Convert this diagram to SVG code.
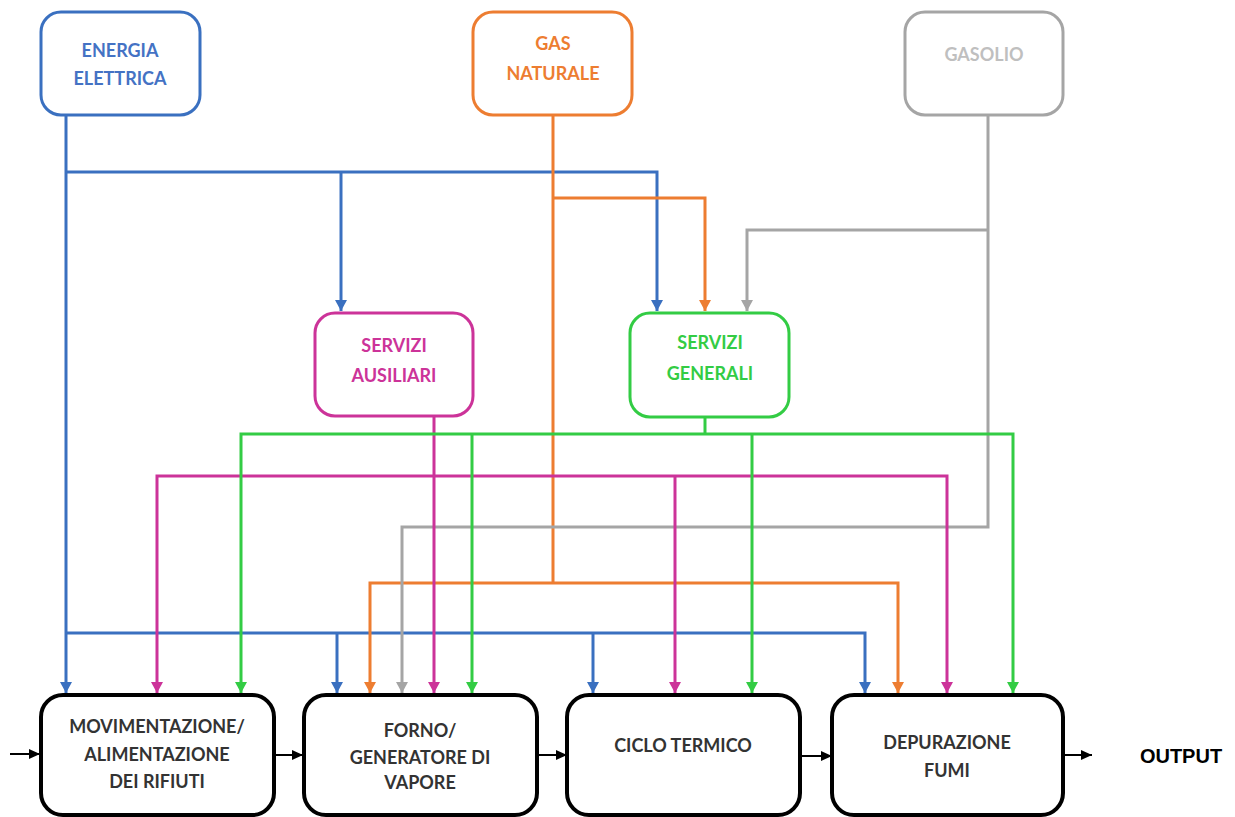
<svg xmlns="http://www.w3.org/2000/svg" width="1235" height="817" viewBox="0 0 1235 817">
  <style>
    .src { fill: #ffffff; stroke-width: 3; }
    .proc { fill: #ffffff; stroke: #000000; stroke-width: 4; }
    .lbl { font-family: Lato, "Open Sans", "Liberation Sans", sans-serif; font-weight: bold; font-size: 18px; text-anchor: middle; }
    .wire { fill: none; stroke-width: 3; }
    .blue { stroke: #3a70c0; }
    .orange { stroke: #ed7d31; }
    .grey { stroke: #a5a5a5; }
    .magenta { stroke: #cc3399; }
    .green { stroke: #33cc44; }
    .black { stroke: #000000; stroke-width: 2; }
  </style>
  <defs>
    <marker id="ah-blue" markerUnits="userSpaceOnUse" markerWidth="12" markerHeight="12" refX="11" refY="6" orient="auto"><path d="M0,0 L11,6 L0,12 z" fill="#3a70c0"/></marker>
    <marker id="ah-orange" markerUnits="userSpaceOnUse" markerWidth="12" markerHeight="12" refX="11" refY="6" orient="auto"><path d="M0,0 L11,6 L0,12 z" fill="#ed7d31"/></marker>
    <marker id="ah-grey" markerUnits="userSpaceOnUse" markerWidth="12" markerHeight="12" refX="11" refY="6" orient="auto"><path d="M0,0 L11,6 L0,12 z" fill="#a5a5a5"/></marker>
    <marker id="ah-magenta" markerUnits="userSpaceOnUse" markerWidth="12" markerHeight="12" refX="11" refY="6" orient="auto"><path d="M0,0 L11,6 L0,12 z" fill="#cc3399"/></marker>
    <marker id="ah-green" markerUnits="userSpaceOnUse" markerWidth="12" markerHeight="12" refX="11" refY="6" orient="auto"><path d="M0,0 L11,6 L0,12 z" fill="#33cc44"/></marker>
    <marker id="ah-black" markerUnits="userSpaceOnUse" markerWidth="12" markerHeight="10" refX="11" refY="5" orient="auto"><path d="M0,0 L11,5 L0,10 z" fill="#000000"/></marker>
  </defs>

  <rect width="1235" height="817" fill="#ffffff"/>

  <!-- supply and service lines -->
  <g id="connectors">
    <!-- electricity -->
    <g class="wire blue">
      <path d="M66,115 V693" marker-end="url(#ah-blue)"/>
      <path d="M66,172 H657 V311" marker-end="url(#ah-blue)"/>
      <path d="M341,172 V311" marker-end="url(#ah-blue)"/>
      <path d="M66,633 H865 V693" marker-end="url(#ah-blue)"/>
      <path d="M337,633 V693" marker-end="url(#ah-blue)"/>
      <path d="M593,633 V693" marker-end="url(#ah-blue)"/>
    </g>
    <!-- natural gas -->
    <g class="wire orange">
      <path d="M553,115 V583"/>
      <path d="M553,198 H705 V311" marker-end="url(#ah-orange)"/>
      <path d="M553,583 H370 V693" marker-end="url(#ah-orange)"/>
      <path d="M553,583 H898 V693" marker-end="url(#ah-orange)"/>
    </g>
    <!-- diesel -->
    <g class="wire grey">
      <path d="M988,115 V527 H402 V693" marker-end="url(#ah-grey)"/>
      <path d="M988,230 H747 V311" marker-end="url(#ah-grey)"/>
    </g>
    <!-- auxiliary services -->
    <g class="wire magenta">
      <path d="M434,416 V693" marker-end="url(#ah-magenta)"/>
      <path d="M434,476 H157 V693" marker-end="url(#ah-magenta)"/>
      <path d="M434,476 H947 V693" marker-end="url(#ah-magenta)"/>
      <path d="M675,476 V693" marker-end="url(#ah-magenta)"/>
    </g>
    <!-- general services -->
    <g class="wire green">
      <path d="M705,417 V434"/>
      <path d="M705,434 H241 V693" marker-end="url(#ah-green)"/>
      <path d="M705,434 H1013 V693" marker-end="url(#ah-green)"/>
      <path d="M472,434 V693" marker-end="url(#ah-green)"/>
      <path d="M752,434 V693" marker-end="url(#ah-green)"/>
    </g>
    <!-- process flow -->
    <g class="wire black">
      <path d="M10,754 H40" marker-end="url(#ah-black)"/>
      <path d="M274,755 H303" marker-end="url(#ah-black)"/>
      <path d="M537,755 H567" marker-end="url(#ah-black)"/>
      <path d="M800,756 H832" marker-end="url(#ah-black)"/>
      <path d="M1063,755 H1092" marker-end="url(#ah-black)"/>
    </g>
  </g>

  <!-- energy sources -->
  <g id="energia-elettrica">
    <rect class="src" x="41" y="12" width="159" height="103" rx="20" stroke="#3a70c0"/>
    <text class="lbl" x="120" y="57" fill="#4472c4">ENERGIA</text>
    <text class="lbl" x="120" y="85" fill="#4472c4">ELETTRICA</text>
  </g>
  <g id="gas-naturale">
    <rect class="src" x="473" y="12" width="159" height="103" rx="20" stroke="#ed7d31"/>
    <text class="lbl" x="553" y="50" fill="#ed7d31">GAS</text>
    <text class="lbl" x="553" y="80" fill="#ed7d31">NATURALE</text>
  </g>
  <g id="gasolio">
    <rect class="src" x="905" y="12" width="158" height="103" rx="20" stroke="#a5a5a5"/>
    <text class="lbl" x="984" y="61" fill="#bfbfbf">GASOLIO</text>
  </g>

  <!-- service blocks -->
  <g id="servizi-ausiliari">
    <rect class="src" x="315" y="313" width="158" height="103" rx="20" stroke="#cc3399"/>
    <text class="lbl" x="394" y="352" fill="#cc3399">SERVIZI</text>
    <text class="lbl" x="394" y="382" fill="#cc3399">AUSILIARI</text>
  </g>
  <g id="servizi-generali">
    <rect class="src" x="630" y="313" width="159" height="104" rx="20" stroke="#33cc44"/>
    <text class="lbl" x="710" y="349" fill="#33cc44">SERVIZI</text>
    <text class="lbl" x="710" y="380" fill="#33cc44">GENERALI</text>
  </g>

  <!-- process stages -->
  <g id="movimentazione">
    <rect class="proc" x="41" y="695" width="233" height="120" rx="22"/>
    <text class="lbl" x="157" y="733" fill="#333333">MOVIMENTAZIONE/</text>
    <text class="lbl" x="157" y="761" fill="#333333">ALIMENTAZIONE</text>
    <text class="lbl" x="157" y="788" fill="#333333">DEI RIFIUTI</text>
  </g>
  <g id="forno">
    <rect class="proc" x="304" y="695" width="233" height="120" rx="22"/>
    <text class="lbl" x="420" y="737" fill="#333333">FORNO/</text>
    <text class="lbl" x="420" y="764" fill="#333333">GENERATORE DI</text>
    <text class="lbl" x="420" y="789" fill="#333333">VAPORE</text>
  </g>
  <g id="ciclo-termico">
    <rect class="proc" x="567" y="695" width="233" height="120" rx="22"/>
    <text class="lbl" x="683" y="752" fill="#333333">CICLO TERMICO</text>
  </g>
  <g id="depurazione-fumi">
    <rect class="proc" x="832" y="695" width="231" height="120" rx="22"/>
    <text class="lbl" x="947" y="749" fill="#333333">DEPURAZIONE</text>
    <text class="lbl" x="947" y="777" fill="#333333">FUMI</text>
  </g>

  <g id="output">
    <text x="1181" y="763" font-family="'Liberation Sans', Arial, sans-serif" font-weight="bold" font-size="20" text-anchor="middle" fill="#000000">OUTPUT</text>
  </g>
</svg>
